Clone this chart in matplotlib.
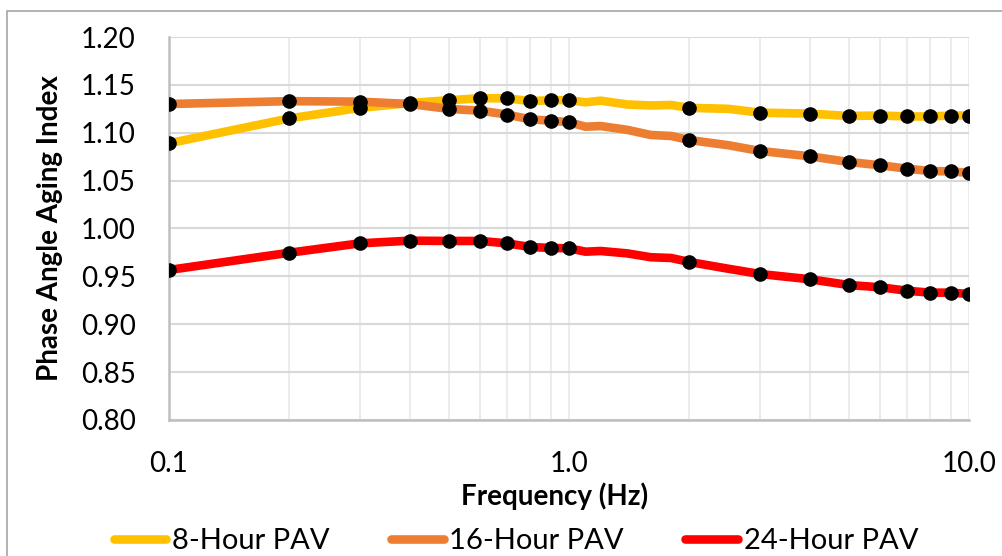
import matplotlib.pyplot as plt
import numpy as np
from matplotlib.patches import Rectangle
from matplotlib.ticker import FixedLocator, NullFormatter

plt.rcParams['font.family'] = ['Lato', 'DejaVu Sans']

# frequencies where the black markers sit
marker_freq = [0.1, 0.2, 0.3, 0.4, 0.5, 0.6, 0.7, 0.8, 0.9, 1.0,
               2, 3, 4, 5, 6, 7, 8, 9, 10]

# the lines are denser than the markers
line_freq = [0.1, 0.2, 0.3, 0.4, 0.5, 0.6, 0.7, 0.8, 0.9, 1.0,
             1.1, 1.2, 1.4, 1.6, 1.8, 2, 2.5, 3, 4, 5, 6, 7, 8, 9, 10]

pav8 = [1.089, 1.115, 1.126, 1.131, 1.134, 1.136, 1.136, 1.133, 1.134, 1.134,
        1.1318, 1.1335, 1.1295, 1.1285, 1.129, 1.126, 1.125, 1.121,
        1.120, 1.1175, 1.118, 1.117, 1.117, 1.118, 1.118]
pav16 = [1.130, 1.133, 1.1325, 1.130, 1.125, 1.123, 1.119, 1.114, 1.1126, 1.111,
         1.1063, 1.107, 1.103, 1.0977, 1.0966, 1.0924, 1.087, 1.081,
         1.0754, 1.0695, 1.066, 1.0625, 1.060, 1.0597, 1.058]
pav24 = [0.9567, 0.9747, 0.9845, 0.9873, 0.987, 0.987, 0.9845, 0.9807, 0.9797, 0.9793,
         0.9758, 0.9765, 0.974, 0.970, 0.9692, 0.965, 0.958, 0.9525,
         0.947, 0.941, 0.9386, 0.935, 0.933, 0.933, 0.9316]

labels = ['8-Hour PAV', '16-Hour PAV', '24-Hour PAV']
colors = ['#FFC000', '#ED7D31', '#FF0000']

fig = plt.figure(figsize=(10.03, 5.56), dpi=100)
ax = fig.add_axes([169/1003, 1 - 420/556, 800/1003, 383/556])

# excel style chart border
fig.patches.append(Rectangle((7/1003, -0.1), 1.2, 1.1 - 11/556,
                             transform=fig.transFigure, fill=False,
                             edgecolor='#a6a6a6', linewidth=1.2))

mark_idx = [line_freq.index(f) for f in marker_freq]
handles = []
for vals, lab, col in zip([pav8, pav16, pav24], labels, colors):
    h, = ax.plot(line_freq, vals, color=col, linewidth=6.2, label=lab,
                 solid_capstyle='round', zorder=3)
    handles.append(h)
    ax.plot(np.array(line_freq)[mark_idx], np.array(vals)[mark_idx],
            linestyle='none', marker='o', markersize=9.5, color='black', zorder=4)

ax.set_xscale('log')
ax.set_xlim(0.1, 10)
ax.set_ylim(0.80, 1.20)
ax.set_yticks(np.arange(0.80, 1.201, 0.05))
ax.set_yticklabels(['%.2f' % v for v in np.arange(0.80, 1.201, 0.05)])
ax.xaxis.set_major_locator(FixedLocator([0.1, 1, 10]))
ax.set_xticklabels(['0.1', '1.0', '10.0'])
ax.xaxis.set_minor_formatter(NullFormatter())

ax.grid(True, which='major', axis='y', color='#d9d9d9', linewidth=1.5)
ax.grid(True, which='both', axis='x', color='#ececec', linewidth=1.5)
ax.tick_params(axis='y', which='both', length=0, labelsize=20, pad=24)
ax.tick_params(axis='x', which='both', length=0, labelsize=20, pad=22)

for s in ['top', 'right']:
    ax.spines[s].set_visible(False)
for s in ['left', 'bottom']:
    ax.spines[s].set_color('#bfbfbf')
    ax.spines[s].set_linewidth(1.8)

ax.set_xlabel('Frequency (Hz)', fontsize=20, fontweight='bold')
ax.xaxis.set_label_coords(0.4825, -0.2)
ax.xaxis.label.set_verticalalignment('center')
ax.set_ylabel('Phase Angle Aging Index', fontsize=20, fontweight='bold')
ax.yaxis.set_label_coords(-0.149, 0.5)
ax.yaxis.label.set_verticalalignment('center')

fig.legend(handles=handles, loc='center', bbox_to_anchor=(516/1003, 1 - 541/556),
           ncol=3, frameon=False, fontsize=21, handlelength=1.8,
           handletextpad=0.2, columnspacing=2.1, borderpad=0)

fig.savefig('out.png', dpi=100)
